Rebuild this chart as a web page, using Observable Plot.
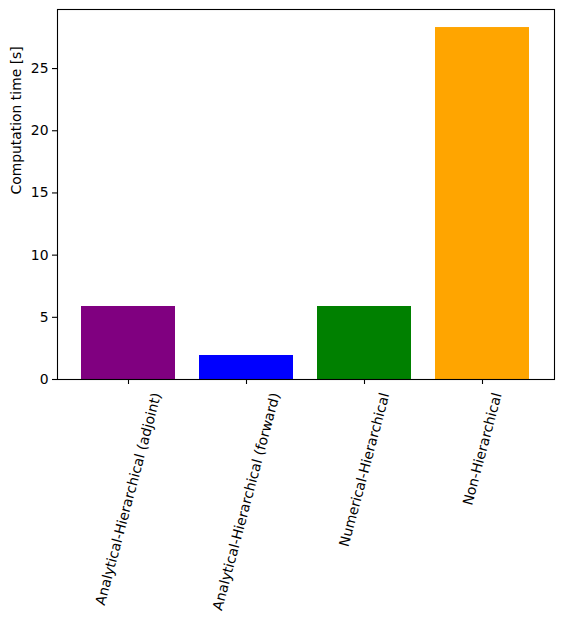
<!DOCTYPE html>
<html>
<head>
<meta charset="utf-8">
<script src="https://cdn.jsdelivr.net/npm/d3@7"></script>
<script src="https://cdn.jsdelivr.net/npm/@observablehq/plot@0.6"></script>
<style>
  html, body { margin: 0; padding: 0; background: white; }
</style>
</head>
<body>
<div id="chart"></div>
<script>
const categories = [
  "Analytical-Hierarchical (adjoint)",
  "Analytical-Hierarchical (forward)",
  "Numerical-Hierarchical",
  "Non-Hierarchical"
];
const times = [5.87, 1.93, 5.87, 28.3];
const barColors = ["#800080", "#0000ff", "#008000", "#ffa500"];
const yTicks = [0, 5, 10, 15, 20, 25];
const yLabel = "Computation time [s]";

const data = categories.map((c, i) => ({method: c, time: times[i]}));

const chart = Plot.plot({
  width: 562,
  height: 620,
  marginLeft: 57,
  marginRight: 8,
  marginTop: 9,
  marginBottom: 241,
  style: {fontFamily: "DejaVu Sans", fontSize: "13.9px", color: "black", background: "white"},
  x: {domain: categories, paddingInner: 0.2, paddingOuter: 0.19, align: 0.5},
  y: {domain: [0, 29.75]},
  color: {domain: categories, range: barColors},
  marks: [
    Plot.barY(data, {x: "method", y: "time", fill: "method"}),
    Plot.frame({stroke: "black", strokeWidth: 1.1}),
    Plot.axisY({ticks: yTicks, tickSize: 5, tickPadding: 4, label: null, stroke: "black", strokeWidth: 1.1}),
    Plot.axisX({tickSize: 5, tickRotate: -75, tickPadding: 4, label: null, stroke: "black", strokeWidth: 1.1}),
    Plot.text([yLabel], {text: d => d, frameAnchor: "left", dx: -41, rotate: -90, fill: "black"})
  ]
});

document.getElementById("chart").appendChild(chart);

// center each rotated x tick label's bounding box under its tick (matplotlib style)
const xs = chart.scale("x");
const svgRect = chart.getBoundingClientRect();
const targetTop = 391;
chart.querySelectorAll('g[aria-label="x-axis tick label"] text').forEach(t => {
  const label = t.textContent;
  const cx = xs.apply(label) + xs.bandwidth / 2;
  const r = t.getBoundingClientRect();
  const midX = (r.left + r.right) / 2 - svgRect.left;
  const top = r.top - svgRect.top;
  const dx = cx - midX;
  const dy = targetTop - top;
  const tr = t.getAttribute("transform") || "";
  t.setAttribute("transform", `translate(${dx},${dy}) ` + tr);
});
</script>
</body>
</html>
